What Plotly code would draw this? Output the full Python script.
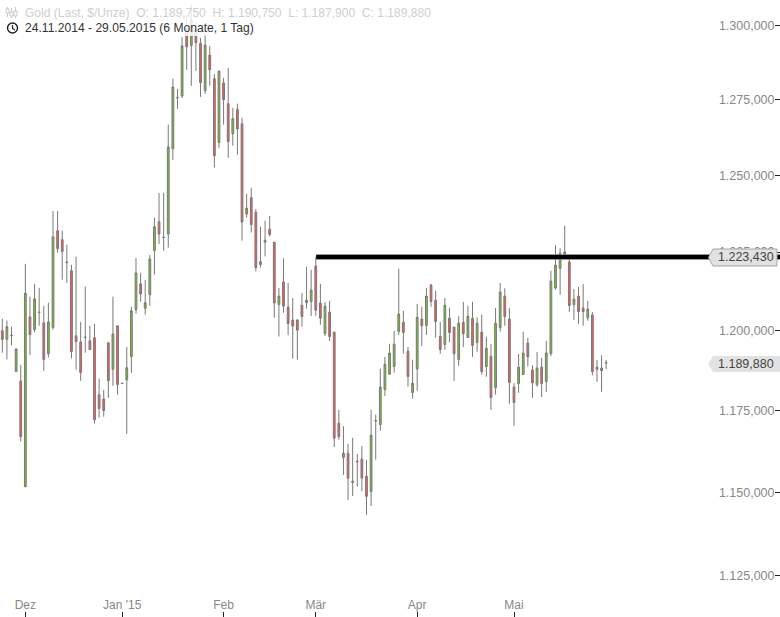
import plotly.graph_objects as go

W, H = 780, 617

highs = [1203.7,1203.1,1201.2,1194.2,1189.2,1221.2,1210.7,1214.8,1213.5,1207.8,1208.8,1238.3,1238.3,1231.9,1227.3,1220.9,1223.5,1202.7,1213.9,1201.5,
         1202.1,1184.9,1181.4,1196.4,1210.7,1201.5,1183.5,1194.8,1207.5,1223.1,1218.3,1216.1,1224.1,1236.1,1244.2,1244.2,1266.7,1282.1,1278.7,1296.2,
         1303.8,1307.2,1301.4,1295.9,1297.6,1293.2,1283.7,1284.7,1282.4,1285.7,1272.3,1273.7,1269.0,1243.9,1245.8,1238.9,1233.2,1235.1,1236.7,1228.2,
         1213.5,1223.0,1215.1,1210.3,1203.6,1211.9,1220.3,1219.3,1223.5,1214.8,1209.0,1209.4,1199.5,1175.2,1170.2,1164.7,1166.6,1161.7,1164.1,1159.9,
         1175.2,1173.7,1188.0,1191.7,1195.8,1199.9,1219.6,1206.2,1194.8,1190.8,1208.4,1207.5,1213.5,1214.8,1212.6,1202.7,1210.3,1207.2,1201.1,1204.5,
         1209.1,1207.8,1209.1,1204.2,1205.0,1198.0,1195.7,1207.1,1215.1,1213.4,1207.1,1183.5,1192.6,1199.6,1197.7,1189.1,1193.2,1191.4,1196.7,1219.0,
         1227.2,1226.2,1233.5,1224.1,1213.1,1213.8,1214.7,1209.4,1205.8,1190.7,1192.2,1190.75]
opens = [1199.9,1197.2,1198.5,1187.1,1184.2,1151.7,1204.3,1200.3,1205.8,1202.4,1192.7,1200.9,1231.9,1229.0,1221.8,1219.0,1198.3,1196.4,1197.9,1196.8,
         1197.7,1179.9,1178.6,1196.1,1187.8,1201.5,1183.5,1184.5,1191.8,1206.6,1214.8,1207.0,1211.3,1225.5,1234.8,1229.8,1230.8,1258.7,1275.8,1276.3,
         1299.3,1293.3,1298.6,1294.1,1278.1,1290.1,1282.1,1260.8,1280.7,1273.7,1263.7,1271.7,1267.0,1237.3,1242.6,1237.9,1221.0,1228.2,1232.4,1228.2,
         1208.2,1215.4,1207.4,1203.3,1203.3,1208.0,1208.8,1209.2,1220.5,1208.7,1199.0,1205.8,1199.5,1171.1,1160.6,1161.9,1153.0,1159.5,1160.1,1154.9,
         1150.2,1171.9,1170.7,1181.5,1186.3,1188.7,1199.7,1202.6,1193.5,1180.6,1187.9,1203.6,1201.6,1214.4,1209.6,1198.2,1195.6,1203.9,1201.1,1190.9,
         1202.6,1197.8,1203.9,1196.2,1199.5,1188.7,1191.9,1182.1,1200.9,1210.9,1203.6,1182.3,1183.4,1186.2,1196.0,1187.6,1183.0,1188.5,1184.0,1192.7,
         1213.5,1219.7,1224.1,1221.8,1208.2,1210.9,1207.1,1204.0,1204.9,1188.5,1187.4,1189.75]
closes = [1197.2,1201.2,1198.4,1194.2,1167.0,1211.8,1198.7,1210.0,1205.7,1190.9,1202.7,1229.9,1226.1,1225.2,1221.6,1193.4,1196.5,1186.8,1197.8,1194.0,
          1172.2,1175.6,1175.0,1184.3,1198.9,1183.1,1183.4,1188.3,1206.2,1218.3,1211.6,1208.8,1222.8,1233.2,1230.8,1229.7,1259.3,1279.3,1275.7,1293.2,
          1292.9,1302.1,1294.3,1280.8,1293.5,1285.1,1256.4,1284.7,1275.1,1261.1,1268.7,1265.3,1234.7,1239.2,1233.9,1220.0,1221.9,1228.8,1230.7,1208.7,
          1210.9,1207.7,1202.2,1201.4,1200.1,1204.4,1209.6,1212.8,1206.4,1203.9,1207.7,1198.1,1166.5,1167.0,1161.9,1154.3,1153.4,1159.3,1154.3,1148.8,
          1167.4,1171.8,1182.3,1189.4,1192.9,1195.7,1205.2,1199.4,1185.6,1183.5,1204.2,1201.5,1210.9,1209.2,1202.8,1194.0,1208.0,1199.4,1192.7,1202.3,
          1199.0,1204.5,1195.3,1202.3,1187.1,1194.4,1179.0,1202.3,1212.2,1204.4,1183.7,1177.5,1188.5,1192.9,1191.7,1183.6,1188.2,1183.4,1192.9,1215.7,
          1220.8,1224.6,1225.0,1207.9,1209.9,1206.0,1206.0,1206.8,1187.1,1187.8,1188.2,1189.88]
lows = [1193.0,1190.9,1195.3,1187.1,1165.5,1151.6,1192.3,1199.4,1201.5,1187.4,1191.5,1200.3,1224.8,1216.1,1215.1,1191.2,1187.7,1184.2,1193.0,1193.9,
        1171.0,1172.8,1173.1,1178.9,1182.7,1179.9,1183.4,1167.8,1186.7,1205.3,1209.1,1205.0,1207.8,1217.7,1227.6,1225.4,1226.4,1255.0,1272.0,1275.6,
        1285.1,1279.7,1284.7,1276.0,1277.0,1279.7,1252.5,1259.0,1266.7,1255.7,1259.7,1256.7,1228.7,1236.1,1231.3,1218.8,1220.0,1223.6,1230.0,1204.0,
        1198.1,1205.6,1198.6,1191.1,1190.8,1201.2,1206.9,1204.6,1204.6,1201.8,1198.3,1196.7,1163.8,1166.0,1155.3,1147.7,1148.9,1151.7,1150.4,1143.2,
        1145.9,1159.9,1168.8,1179.5,1186.1,1186.8,1198.6,1192.7,1182.4,1178.7,1181.1,1195.1,1198.6,1207.5,1197.7,1192.7,1193.9,1196.3,1184.2,1188.9,
        1194.8,1197.7,1191.7,1193.3,1186.1,1185.5,1175.2,1179.9,1199.6,1201.5,1177.1,1170.3,1180.5,1186.1,1188.7,1178.9,1182.4,1179.2,1180.8,1192.0,
        1212.9,1211.3,1224.1,1205.9,1203.4,1202.1,1201.5,1203.1,1185.9,1183.9,1180.8,1187.9]
sessions = list(range(len(closes)))

month_sessions = [5, 26, 48, 68, 90, 111]
month_labels = ["Dez", "Jan '15", "Feb", "Mär", "Apr", "Mai"]
price_ticks = [1125, 1150, 1175, 1200, 1225, 1250, 1275, 1300]
price_labels = ["1.125,000", "1.150,000", "1.175,000", "1.200,000",
                "1.225,000", "1.250,000", "1.275,000", "1.300,000"]
level_price = 1223.43
last_price = 1189.88
level_label = "1.223,430"
last_label = "1.189,880"
level_start = 68.1
x_end = 168.7

FONT = "Liberation Sans"


def px(x):
    return x / W


def py(y):
    return 1 - y / H


def path(points):
    return "M " + " L ".join(f"{px(x):.5f} {py(y):.5f}" for x, y in points) + " Z"


def open_path(points):
    return "M " + " L ".join(f"{px(x):.5f} {py(y):.5f}" for x, y in points)


fig = go.Figure()
fig.add_trace(go.Candlestick(
    x=sessions, open=opens, high=highs, low=lows, close=closes,
    increasing=dict(line=dict(color="#7d7878", width=1), fillcolor="#66cc22"),
    decreasing=dict(line=dict(color="#7d7878", width=1), fillcolor="#ff5555"),
    whiskerwidth=0, hoverinfo="skip", showlegend=False,
))
fig.add_trace(go.Scatter(x=[level_start, x_end], y=[level_price, level_price], mode="lines",
                         line=dict(color="#777777", width=5.5), hoverinfo="skip", showlegend=False))
fig.add_trace(go.Scatter(x=[level_start, x_end], y=[level_price, level_price], mode="lines",
                         line=dict(color="#000000", width=4), hoverinfo="skip", showlegend=False))

paper = dict(xref="paper", yref="paper", layer="above")
shapes = [
    # translucent header band
    dict(type="rect", x0=0, x1=px(700), y0=py(36), y1=1, fillcolor="rgba(255,255,255,0.82)",
         line=dict(width=0), **paper),
    # price flags
    dict(type="path", path=path([(708.5, 257.5), (713, 249), (777, 249), (777, 266), (713, 266)]),
         fillcolor="#e2e2e2", line=dict(color="#a6a6a6", width=1), **paper),
    dict(type="path", path=path([(708, 364), (713, 356), (780, 356), (780, 372), (713, 372)]),
         fillcolor="#e2e2e2", line=dict(width=0), **paper),
    # clock icon
    dict(type="circle", x0=px(7.5), x1=px(17.5), y0=py(33), y1=py(23), fillcolor="rgba(0,0,0,0)",
         line=dict(color="#222222", width=1.4), **paper),
    dict(type="path", path=open_path([(12.5, 25), (12.5, 28.5), (15, 30)]),
         line=dict(color="#222222", width=1.2), **paper),
]
# candlestick icon next to the instrument name
for ix, top, t0, t1, bot in [(7.5, 7, 9, 13, 17), (11.5, 8, 12, 16, 18), (15.5, 7, 11, 16, 18)]:
    shapes.append(dict(type="path", path=open_path([(ix, top), (ix, bot)]),
                       line=dict(color="#c8c8c8", width=1), **paper))
    shapes.append(dict(type="rect", x0=px(ix - 1.5), x1=px(ix + 1.5), y0=py(t1), y1=py(t0),
                       fillcolor="#ffffff", line=dict(color="#c8c8c8", width=1), **paper))

annotations = [
    dict(x=px(22.5), y=py(12.5), text="Gold (Last, $/Unze)&nbsp;&nbsp;O: 1.189,750&nbsp;&nbsp;H: 1.190,750&nbsp;&nbsp;L: 1.187,900&nbsp;&nbsp;C: 1.189,880",
         font=dict(family=FONT, size=12.05, color="#cfcfcf"), xanchor="left", yanchor="middle",
         xref="paper", yref="paper", showarrow=False),
    dict(x=px(22.5), y=py(28.5), text="24.11.2014 - 29.05.2015 (6 Monate, 1 Tag)",
         font=dict(family=FONT, size=12.1, color="#333333"), xanchor="left", yanchor="middle",
         xref="paper", yref="paper", showarrow=False),
    dict(x=px(775.5), y=py(257.5), text=level_label, font=dict(family=FONT, size=12.5, color="#444444"),
         xanchor="right", yanchor="middle", xref="paper", yref="paper", showarrow=False),
    dict(x=px(775.5), y=py(364), text=last_label, font=dict(family=FONT, size=12.5, color="#444444"),
         xanchor="right", yanchor="middle", xref="paper", yref="paper", showarrow=False),
]

fig.update_layout(
    width=W, height=H,
    margin=dict(l=0, r=0, t=0, b=0),
    paper_bgcolor="white", plot_bgcolor="white",
    boxgap=0.45,
    showlegend=False,
    dragmode=False,
    shapes=shapes,
    annotations=annotations,
    xaxis=dict(
        range=[-0.499, x_end], rangeslider=dict(visible=False),
        tickmode="array", tickvals=month_sessions, ticktext=month_labels,
        ticks="inside", ticklen=5, tickcolor="#222222", tickwidth=1,
        ticklabelposition="inside",
        tickfont=dict(family=FONT, size=12, color="#888888"),
        showgrid=False, zeroline=False, showline=False,
    ),
    yaxis=dict(
        type="log", range=[3.04647, 3.11691], side="right",
        tickmode="array", tickvals=price_ticks, ticktext=price_labels,
        ticks="inside", ticklen=5, tickcolor="#222222", tickwidth=1,
        ticklabelposition="inside",
        tickfont=dict(family=FONT, size=12.5, color="#888888"),
        showgrid=False, zeroline=False, showline=False,
    ),
)

fig.write_html("out.html", config=dict(displayModeBar=False),
               post_script="document.body.style.margin='0';document.body.style.overflow='hidden';")
